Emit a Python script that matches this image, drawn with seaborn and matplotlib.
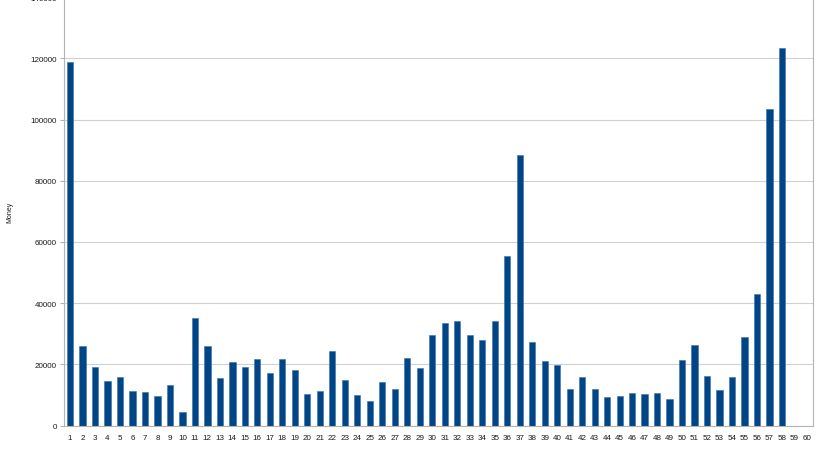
import matplotlib
matplotlib.use("Agg")
import matplotlib.pyplot as plt
import seaborn as sns
import pandas as pd
from matplotlib.ticker import MultipleLocator

# values
days = [str(i) for i in range(1, 59)]
all_days = [str(i) for i in range(1, 61)]
money = [
    118800, 26100, 19100, 14400, 16000, 11400, 10900, 9800, 13100, 4300,
    35100, 26100, 15400, 20700, 19000, 21700, 17300, 21700, 18200, 10200,
    11200, 24400, 14800, 10100, 8100, 14200, 11900, 22100, 18900, 29700,
    33600, 34100, 29700, 27800, 34100, 55500, 88500, 27200, 21000, 19900,
    11800, 15800, 11800, 9300, 9700, 10700, 10300, 10500, 8800, 21400,
    26300, 16200, 11700, 15900, 29000, 43000, 103500, 123300,
]

df = pd.DataFrame({"day": days, "money": money})

sns.set_style("white")
plt.rcParams["font.family"] = ["Liberation Sans", "DejaVu Sans"]

fig = plt.figure(figsize=(8.19, 4.52), dpi=100)
ax = fig.add_axes([63.75 / 819, 1 - 426.5 / 452, (813.25 - 63.75) / 819, 428.2 / 452])

sns.barplot(data=df, x="day", y="money", order=all_days, color="#004586",
            width=0.5, saturation=1, edgecolor="#3a70a8", linewidth=0.4, ax=ax)

ax.set_xlim(-0.5, 59.5)
ax.set_ylim(0, 140000)
ax.yaxis.set_major_locator(MultipleLocator(20000))
ax.set_xticks(range(60))
ax.set_xticks([i - 0.5 for i in range(1, 60)], minor=True)
ax.set_xticklabels(all_days)

ax.grid(axis="y", color="#d0d0d0", linewidth=0.8)
ax.set_axisbelow(True)
for side in ["left", "bottom", "right"]:
    ax.spines[side].set_color("#b3b3b3")
    ax.spines[side].set_linewidth(0.8)
ax.spines["top"].set_visible(False)

ax.tick_params(axis="y", length=3, width=0.8, color="#b3b3b3", pad=2,
               labelsize=5.8, labelcolor="#1a1a1a")
ax.tick_params(axis="x", which="major", length=0, pad=6,
               labelsize=5.8, labelcolor="#1a1a1a")
ax.tick_params(axis="x", which="minor", length=4, width=0.8, color="#b3b3b3")
ax.tick_params(left=True, bottom=True)

ax.set_xlabel("")
ax.set_ylabel("Money", fontsize=5, color="#1a1a1a", labelpad=12)

fig.savefig("out.png", dpi=100)
